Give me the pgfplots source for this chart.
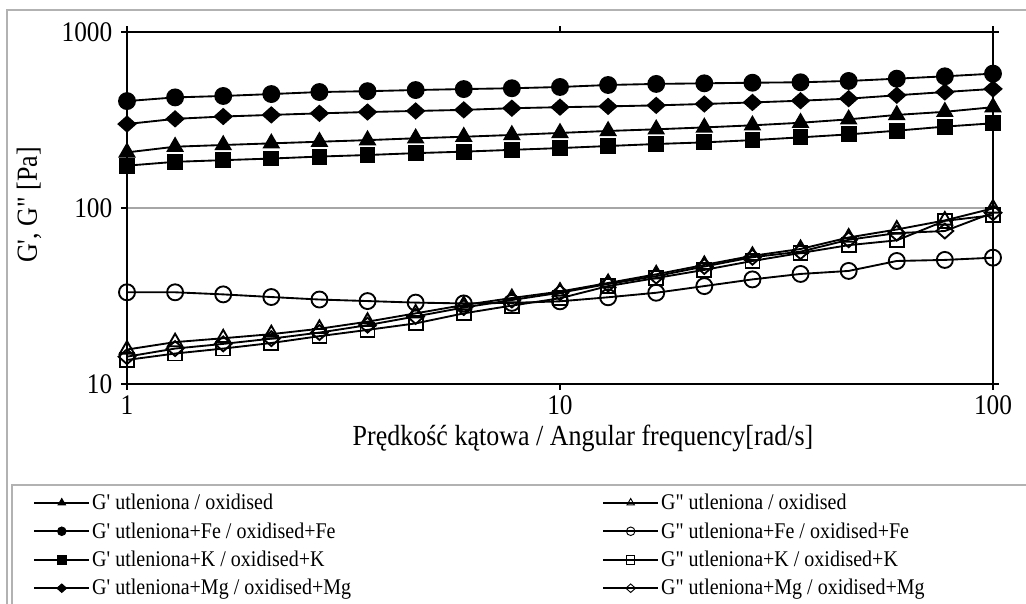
\documentclass[border=0pt]{standalone}
\usepackage{fontspec}
\setmainfont{Liberation Serif}[Ligatures=TeXOff]
\usepackage{pgfplots}
\pgfplotsset{compat=1.18}
\usepackage{pgfplotstable}

% G' and G'' [Pa] against angular frequency [rad/s]
\pgfplotstableread{
x       gpO  gppO  gpFe  gppFe  gpK  gppK  gpMg  gppMg
1       207  15.7  405   33.2   174  13.7  300   14.3
1.2915  223  17.3  425   33.2   183  14.9  321   15.9
1.6681  228  18.2  433   32.3   187  15.9  331   16.9
2.1544  233  19.2  444   31.2   191  17.1  338   18.1
2.7826  238  20.6  456   30.2   196  18.7  345   19.6
3.5938  243  22.6  461   29.6   200  20.3  351   21.6
4.6416  249  25.2  468   29.0   205  22.1  356   24.2
5.9948  254  28.1  474   28.7   209  25.2  361   27.2
7.7426  260  30.8  479   28.9   214  27.9  369   30.0
10      267  33.5  487   29.5   219  30.7  374   33.0
12.915  274  37.5  500   31.1   225  36.0  378   37.0
16.681  280  42.0  507   33.0   231  40.0  383   41.0
21.544  287  47.5  511   36.0   236  44.5  390   46.5
27.826  295  53.5  515   39.3   243  50.0  398   52.5
35.938  305  58.5  518   42.2   252  55.5  407   56.5
46.416  319  68.0  527   43.9   262  61.5  418   66.0
59.948  338  75.5  543   50.0   275  65.5  437   72.0
77.426  352  85.0  560   50.7   290  84.5  456   74.0
100     374  99.5  580   52.2   303  91.0  475   94.0
}\rheo

% the chart's Times is set a little taller than Liberation Serif
\newcommand{\tl}[1]{\scalebox{1}[1.12]{#1}}
\newcommand{\col}[1]{\makebox[381pt][l]{\tl{#1}}}

\begin{document}
\begin{tikzpicture}
\path[use as bounding box] (-95.25pt,-165pt) rectangle (674.25pt,288pt);
% outer chart frame and legend box (both run past the page edge)
\draw[gray!60, line width=0.8pt] (-90pt,-220pt) -- (-90pt,280.5pt) -- (720pt,280.5pt);
\draw[gray!60, line width=0.8pt] (720pt,-75.75pt) -- (-86.25pt,-75.75pt) -- (-86.25pt,-220pt);

\begin{axis}[
  scale only axis,
  width=649.5pt, height=264pt,
  xmode=log, ymode=log,
  xmin=1, xmax=100, ymin=10, ymax=1000,
  xtick={1,10,100}, xticklabels={\tl{1},\tl{10},\tl{100}},
  ytick={10,100,1000}, yticklabels={\tl{10},\tl{100},\tl{1000}},
  xminorticks=false, yminorticks=false,
  tick align=outside,
  major tick length=4.5pt,
  tick style={black, line width=1pt},
  ymajorgrids,
  grid style={gray!70, line width=0.8pt},
  axis line style={line width=1.2pt},
  tick label style={font=\fontsize{19}{23}\selectfont},
  yticklabel style={xshift=-3pt},
  xticklabel style={yshift=-1pt},
  label style={font=\fontsize{19.5}{23}\selectfont},
  xlabel={\tl{Prędkość kątowa / Angular frequency[rad/s]}},
  ylabel={\tl{G', G" [Pa]}},
  xlabel style={at={(axis description cs:0.5266,-0.1534)}, anchor=center},
  ylabel style={at={(axis description cs:-0.1130,0.5085)}, anchor=center},
  legend columns=2,
  legend cell align=left,
  legend style={at={(axis description cs:-0.1085,-0.3080)}, anchor=north west,
    draw=none, fill=none, font=\fontsize{15}{18}\selectfont,
    inner sep=0pt, row sep=6.2pt, column sep=0pt,
    nodes={inner xsep=1.5pt, inner ysep=1pt}},
  legend image code/.code={\draw[mark repeat=2,mark phase=2,#1,line width=1.5pt,mark size=3.2pt,
      every mark/.append style={line width=0.7pt}]
    plot coordinates {(0pt,0pt) (20.6pt,0pt) (41.2pt,0pt)};},
  every axis plot/.append style={black, line width=1.4pt},
]
\addplot[mark=triangle*, mark size=6.3pt] table[x=x,y=gpO]{\rheo};
\addlegendentry{\col{G' utleniona / oxidised}}
\addplot[mark=triangle, mark size=6.3pt] table[x=x,y=gppO]{\rheo};
\addlegendentry{\tl{G" utleniona / oxidised}}
\addplot[mark=*, mark size=6pt] table[x=x,y=gpFe]{\rheo};
\addlegendentry{\col{G' utleniona+Fe / oxidised+Fe}}
\addplot[mark=o, mark size=6pt] table[x=x,y=gppFe]{\rheo};
\addlegendentry{\tl{G" utleniona+Fe / oxidised+Fe}}
\addplot[mark=square*, mark size=5.25pt] table[x=x,y=gpK]{\rheo};
\addlegendentry{\col{G' utleniona+K / oxidised+K}}
\addplot[mark=square, mark size=5.25pt] table[x=x,y=gppK]{\rheo};
\addlegendentry{\tl{G" utleniona+K / oxidised+K}}
\addplot[mark=diamond*, mark size=5.6pt, mark options={xscale=1.5}] table[x=x,y=gpMg]{\rheo};
\addlegendentry{\col{G' utleniona+Mg / oxidised+Mg}}
\addplot[mark=diamond, mark size=5.6pt, mark options={xscale=1.5}] table[x=x,y=gppMg]{\rheo};
\addlegendentry{\tl{G" utleniona+Mg / oxidised+Mg}}
\draw[line width=2pt] (rel axis cs:0,0) -- (rel axis cs:1,0);
\end{axis}
\end{tikzpicture}
\end{document}
